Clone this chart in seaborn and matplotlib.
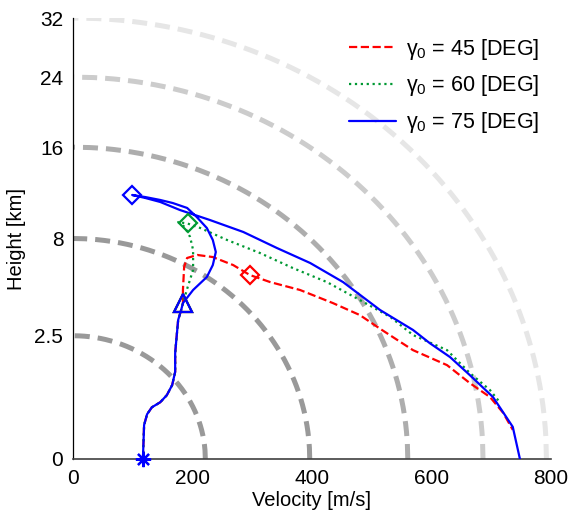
import numpy as np
import pandas as pd
import matplotlib
matplotlib.use("Agg")
import matplotlib.pyplot as plt
import seaborn as sns
from matplotlib.lines import Line2D

# ---------------- data ----------------
# shared ascent (star -> triangle)
common_v = [117, 119, 124, 132, 146, 157, 166, 171, 171, 174, 176, 181, 184]
common_h = [0.0, 0.19, 0.33, 0.44, 0.53, 0.67, 0.90, 1.25, 1.85, 2.61, 3.18, 3.65, 4.00]

# gamma0 = 45 deg branch
red_v = [184, 186, 191, 208, 234, 268, 296, 330, 380, 435, 480, 517, 569, 626, 664, 698, 720, 736]
red_h = [4.70, 6.07, 6.65, 6.85, 6.71, 6.19, 5.57, 5.15, 4.70, 4.00, 3.41, 2.74, 1.95, 1.45, 0.95, 0.63, 0.35, 0.14]

# gamma0 = 60 deg branch
green_v = [192, 201, 201, 196, 187, 176, 192, 213, 258, 313, 368, 425, 480, 531, 569, 626, 664, 698, 715]
green_h = [4.87, 5.88, 7.19, 8.11, 8.86, 9.24, 9.12, 8.78, 7.89, 6.98, 6.00, 5.15, 4.16, 3.32, 2.53, 1.95, 1.22, 0.78, 0.52]

# gamma0 = 75 deg branch
blue_v = [201, 224, 234, 239, 234, 224, 207, 191, 167, 146, 121, 99,
          121, 146, 179, 229, 285, 341, 397, 452, 514, 569, 597, 631, 664, 703, 736, 748]
blue_h = [4.70, 5.45, 6.19, 7.05, 7.89, 8.78, 9.64, 10.37, 10.78, 11.04, 11.29, 11.47,
          11.21, 10.87, 10.20, 9.40, 8.48, 7.33, 6.32, 5.15, 3.65, 2.74, 2.21, 1.71, 1.16, 0.63, 0.17, 0.0]

# markers
start_v, start_h = [117], [0.0]
tri_v, tri_h = [184], [4.0]
diam_v = [296, 192, 99]
diam_h = [5.57, 9.16, 11.47]

labels = [r"$\mathregular{\gamma_0}$ = 45 [DEG]",
          r"$\mathregular{\gamma_0}$ = 60 [DEG]",
          r"$\mathregular{\gamma_0}$ = 75 [DEG]"]
colors = ["#ff0000", "#009933", "#0000ff"]

# constant-energy levels (km) and their shades
energy_levels = [2.5, 8, 16, 24, 32]
energy_grays = ["0.60", "0.60", "0.68", "0.80", "0.90"]

x_ticks = [0, 200, 400, 600, 800]
y_ticks = [0, 2.5, 8, 16, 24, 32]
y_tick_labels = ["0", "2.5", "8", "16", "24", "32"]

# ---------------- figure ----------------
sns.set_theme(style="white")
plt.rcParams["font.family"] = ["Liberation Sans", "DejaVu Sans"]
plt.rcParams["mathtext.fontset"] = "custom"
plt.rcParams["mathtext.rm"] = "Liberation Sans"
plt.rcParams["mathtext.it"] = "Liberation Sans"
plt.rcParams["text.color"] = "black"
plt.rcParams["axes.labelcolor"] = "black"
plt.rcParams["xtick.color"] = "black"
plt.rcParams["ytick.color"] = "black"

fig = plt.figure(figsize=(5.71, 5.19), dpi=100)
ax = fig.add_axes([73 / 571, 1 - 459 / 519, (551 - 73) / 571, (459 - 18) / 519])

fwd = lambda y: np.sqrt(np.clip(y, 0, None))
inv = lambda y: np.square(y)
ax.set_yscale("function", functions=(fwd, inv))

g2 = 9.81 * 2 * 1000.0  # 2 g, with h in km
for H, c in zip(energy_levels, energy_grays):
    hh = np.linspace(0, H, 400)
    vv = np.sqrt(g2 * (H - hh))
    ax.plot(vv, hh, color=c, lw=3.6, dashes=(3, 1.6), dash_capstyle="butt", zorder=1)

def branch(v, h):
    return pd.DataFrame({"v": common_v + v, "h": common_h + h})

styles = ["--", ":", "-"]
series = [(red_v, red_h), (green_v, green_h), (blue_v, blue_h)]
for (v, h), c, ls in zip(series, colors, styles):
    df = branch(v, h)
    sns.lineplot(data=df, x="v", y="h", sort=False, estimator=None, ax=ax,
                 color=c, linestyle=ls, lw=1.6, zorder=3)

# markers
for i, c in enumerate(colors):
    ax.plot([diam_v[i]], [diam_h[i]], marker="D", ms=9.5, mfc="none", mec=c, mew=1.6,
            ls="none", zorder=5, clip_on=False)
for c in colors:
    ax.plot(tri_v, tri_h, marker="^", ms=12.5, mfc="none", mec=c, mew=1.6,
            ls="none", zorder=5, clip_on=False)
ax.plot(start_v, start_h, marker=(8, 2, 0), ms=11, mec="#0000ff", mew=1.6,
        ls="none", zorder=6, clip_on=False)

ax.set_xlim(0, 800)
ax.set_ylim(0, 32)
ax.set_xticks(x_ticks)
ax.set_xticklabels([str(t) for t in x_ticks])
ax.set_yticks(y_ticks)
ax.set_yticklabels(y_tick_labels)
ax.minorticks_off()
ax.tick_params(direction="in", length=4, width=0.8, labelsize=15, colors="black",
               pad=7)
ax.set_xlabel("Velocity [m/s]", fontsize=14.5, labelpad=2, color="black")
ax.set_ylabel("Height [km]", fontsize=14.5, labelpad=6, color="black")

for s in ["top", "right"]:
    ax.spines[s].set_visible(False)
ax.spines["left"].set_color("black")
ax.spines["bottom"].set_color("#404040")
ax.spines["left"].set_linewidth(0.9)
ax.spines["bottom"].set_linewidth(1.2)

handles = [Line2D([], [], color=c, ls=ls, lw=1.6) for c, ls in zip(colors, styles)]
leg = ax.legend(handles, labels, loc="upper right", bbox_to_anchor=(0.975, 0.958),
                frameon=False, fontsize=15.5, handlelength=2.2, labelspacing=0.55,
                handletextpad=0.45, borderaxespad=0, borderpad=0)
for t in leg.get_texts():
    t.set_color("black")

fig.savefig("out.png", dpi=100)
